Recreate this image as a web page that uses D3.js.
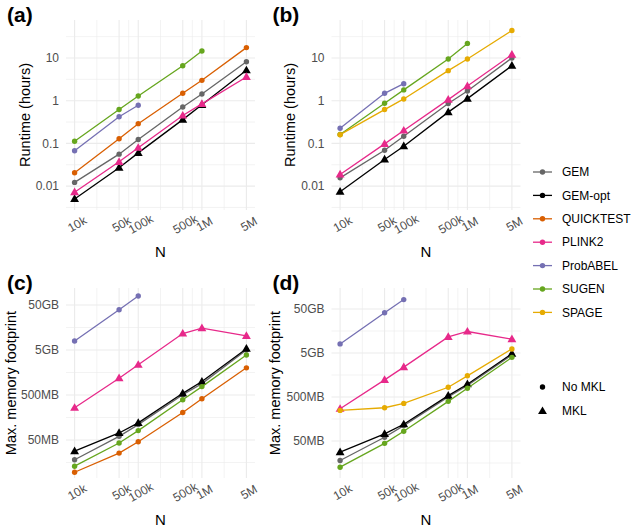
<!DOCTYPE html>
<html>
<head>
<meta charset="utf-8">
<script src="https://cdn.jsdelivr.net/npm/d3@7"></script>
<style>
  body { margin: 0; background: #fff; }
  text { font-family: "Liberation Sans", Arial, Helvetica, sans-serif; }
</style>
</head>
<body>
<script>
// sample sizes on the x axis
var nValues = [1e4, 5e4, 1e5, 5e5, 1e6, 5e6];
var nLabels = ["10k", "50k", "100k", "500k", "1M", "5M"];

var tools = ["GEM", "GEM-opt", "QUICKTEST", "PLINK2", "ProbABEL", "SUGEN", "SPAGE"];
var toolColors = ["#666666", "#000000", "#D95F02", "#E7298A", "#7570B3", "#66A61E", "#E6AB02"];
var mklTools = ["GEM-opt", "PLINK2"];

// runtime in hours, one row per tool (same order as tools), null = not run
var runtimeA = [
  [0.0122, 0.056, 0.123, 0.71, 1.44, 8.2],
  [0.005, 0.027, 0.060, 0.36, 0.80, 5.15],
  [0.0205, 0.128, 0.29, 1.49, 3.0, 17.5],
  [0.0072, 0.037, 0.079, 0.45, 0.84, 3.6],
  [0.067, 0.42, 0.78, null, null, null],
  [0.112, 0.62, 1.29, 6.6, 14.6, null],
  [null, null, null, null, null, null]
];
var runtimeB = [
  [0.0156, 0.069, 0.147, 0.86, 1.69, 10],
  [0.0074, 0.042, 0.086, 0.54, 1.12, 6.6],
  [null, null, null, null, null, null],
  [0.0187, 0.0975, 0.2, 1.06, 2.2, 12],
  [0.226, 1.49, 2.5, null, null, null],
  [0.161, 0.87, 1.79, 9.5, 22, null],
  [0.16, 0.62, 1.1, 5.06, 9.5, 44]
];
// max memory in MB
var memoryC = [
  [18.2, 60.4, 110, 508, 897, 5000],
  [28.4, 71.7, 120, 545, 995, 5360],
  [9.6, 25.6, 45.9, 205, 414, 2010],
  [260, 1180, 2350, 11600, 15300, 10300],
  [7950, 39350, 79400, null, null, null],
  [13.1, 42.9, 80.9, 393, 769, 3860],
  [null, null, null, null, null, null]
];
var memoryD = [
  [18, 60.7, 112, 500, 910, 4500],
  [28, 72.3, 120, 537, 975, 4830],
  [null, null, null, null, null, null],
  [270, 1225, 2390, 11600, 15400, 10300],
  [8040, 41200, 81800, null, null, null],
  [12.7, 44.2, 83.2, 398, 789, 3980],
  [248, 285, 358, 832, 1514, 6180]
];

var runtimeTicks = [0.01, 0.1, 1, 10];
var runtimeTickLabels = ["0.01", "0.1", "1", "10"];
var memoryTicks = [50, 500, 5000, 50000];
var memoryTickLabels = ["50MB", "500MB", "5GB", "50GB"];

var w = 633, h = 528;
var panelW = 189, panelH = 190;
var grid = "#EBEBEB";
var axisGray = "#4D4D4D";

var svg = d3.select("body").append("svg").attr("width", w).attr("height", h);

var panels = [
  { tag: "(a)", rows: runtimeA, left: 66, top: 20, yLog: [-2.56, 1.89],
    ticks: runtimeTicks, tickLabels: runtimeTickLabels, title: "Runtime (hours)", titleX: 25 },
  { tag: "(b)", rows: runtimeB, left: 331.5, top: 20, yLog: [-2.56, 1.89],
    ticks: runtimeTicks, tickLabels: runtimeTickLabels, title: "Runtime (hours)", titleX: 290 },
  { tag: "(c)", rows: memoryC, left: 66, top: 288, yLog: [0.855, 5.077],
    ticks: memoryTicks, tickLabels: memoryTickLabels, title: "Max. memory footprint", titleX: 11 },
  { tag: "(d)", rows: memoryD, left: 331.5, top: 288, yLog: [0.858, 5.176],
    ticks: memoryTicks, tickLabels: memoryTickLabels, title: "Max. memory footprint", titleX: 275 }
];

var lo = Math.log10(nValues[0]), hi = Math.log10(nValues[nValues.length - 1]);
var pad = (hi - lo) * 0.05;

var triangle = d3.symbol().type(d3.symbolTriangle).size(34);

panels.forEach(function (p) {
  var x = d3.scaleLog()
    .domain([Math.pow(10, lo - pad), Math.pow(10, hi + pad)])
    .range([p.left, p.left + panelW]);
  var y = d3.scaleLog()
    .domain([Math.pow(10, p.yLog[0]), Math.pow(10, p.yLog[1])])
    .range([p.top + panelH, p.top]);
  var bottom = p.top + panelH;

  var g = svg.append("g");

  // minor grid: geometric midpoints
  var xMinor = [];
  for (var i = 1; i < nValues.length; i++) xMinor.push(Math.sqrt(nValues[i - 1] * nValues[i]));
  var yMinor = [];
  p.ticks.forEach(function (t) { yMinor.push(t / Math.sqrt(10)); });
  yMinor.push(p.ticks[p.ticks.length - 1] * Math.sqrt(10));
  yMinor = yMinor.filter(function (v) { return y(v) >= p.top && y(v) <= bottom; });

  g.selectAll(".xminor").data(xMinor).enter().append("line")
    .attr("x1", d => x(d)).attr("x2", d => x(d))
    .attr("y1", p.top).attr("y2", bottom)
    .attr("stroke", grid).attr("stroke-width", 0.6);
  g.selectAll(".yminor").data(yMinor).enter().append("line")
    .attr("x1", p.left).attr("x2", p.left + panelW)
    .attr("y1", d => y(d)).attr("y2", d => y(d))
    .attr("stroke", grid).attr("stroke-width", 0.6);
  g.selectAll(".xmajor").data(nValues).enter().append("line")
    .attr("x1", d => x(d)).attr("x2", d => x(d))
    .attr("y1", p.top).attr("y2", bottom)
    .attr("stroke", grid).attr("stroke-width", 1.1);
  g.selectAll(".ymajor").data(p.ticks).enter().append("line")
    .attr("x1", p.left).attr("x2", p.left + panelW)
    .attr("y1", d => y(d)).attr("y2", d => y(d))
    .attr("stroke", grid).attr("stroke-width", 1.1);

  // y axis labels
  var yAxis = d3.axisLeft(y).tickValues(p.ticks)
    .tickFormat(function (d, i) { return p.tickLabels[i]; })
    .tickSize(0).tickPadding(7);
  var ya = g.append("g").attr("transform", "translate(" + p.left + ",0)").call(yAxis);
  ya.select(".domain").remove();
  ya.selectAll("text").attr("fill", axisGray).style("font-size", "12px");

  // x axis labels, rotated
  var xAxis = d3.axisBottom(x).tickValues(nValues)
    .tickFormat(function (d, i) { return nLabels[i]; })
    .tickSize(0);
  var xa = g.append("g").attr("transform", "translate(0," + bottom + ")").call(xAxis);
  xa.select(".domain").remove();
  xa.selectAll("text")
    .attr("fill", axisGray).style("font-size", "12px")
    .attr("y", 0).attr("dy", "0.35em")
    .attr("text-anchor", "middle")
    .attr("transform", "translate(2,14) rotate(-30)");

  // titles
  g.append("text")
    .attr("transform", "translate(" + p.titleX + "," + (p.top + panelH / 2) + ") rotate(-90)")
    .attr("text-anchor", "middle").attr("dy", "0.35em")
    .style("font-size", "14.5px").attr("fill", "#000")
    .text(p.title);
  g.append("text")
    .attr("x", p.left + panelW / 2).attr("y", bottom + 47)
    .attr("text-anchor", "middle")
    .style("font-size", "15px").attr("fill", "#000")
    .text("N");
  g.append("text")
    .attr("x", p.left - 59).attr("y", p.top + 2)
    .style("font-size", "21px").style("font-weight", "bold")
    .text(p.tag);

  // series
  var line = d3.line().x(d => x(d.n)).y(d => y(d.v));
  tools.forEach(function (tool, ti) {
    var pts = [];
    p.rows[ti].forEach(function (v, i) {
      if (v != null) pts.push({ n: nValues[i], v: v });
    });
    if (!pts.length) return;
    var col = toolColors[ti];
    g.append("path").datum(pts)
      .attr("d", line).attr("fill", "none")
      .attr("stroke", col).attr("stroke-width", 1.3);
    if (mklTools.indexOf(tool) >= 0) {
      g.selectAll(null).data(pts).enter().append("path")
        .attr("d", triangle)
        .attr("transform", d => "translate(" + x(d.n) + "," + (y(d.v) + 0.5) + ")")
        .attr("fill", col);
    } else {
      g.selectAll(null).data(pts).enter().append("circle")
        .attr("cx", d => x(d.n)).attr("cy", d => y(d.v))
        .attr("r", 2.7).attr("fill", col);
    }
  });
});

// legend
var legendTop = 172, legendStep = 23.4;
var lg = svg.append("g");
tools.forEach(function (tool, i) {
  var yy = legendTop + i * legendStep;
  lg.append("line").attr("x1", 533).attr("x2", 552).attr("y1", yy).attr("y2", yy)
    .attr("stroke", toolColors[i]).attr("stroke-width", 1.3);
  lg.append("circle").attr("cx", 542.5).attr("cy", yy).attr("r", 2.7).attr("fill", toolColors[i]);
  lg.append("text").attr("x", 562).attr("y", yy).attr("dy", "0.35em")
    .style("font-size", "12px").text(tool);
});
var shapes = ["No MKL", "MKL"];
shapes.forEach(function (s, i) {
  var yy = 387 + i * 24;
  if (i === 0) {
    lg.append("circle").attr("cx", 542.5).attr("cy", yy).attr("r", 2.7).attr("fill", "#000");
  } else {
    lg.append("path").attr("d", triangle).attr("transform", "translate(542.5," + (yy + 0.5) + ")").attr("fill", "#000");
  }
  lg.append("text").attr("x", 562).attr("y", yy).attr("dy", "0.35em")
    .style("font-size", "12px").text(s);
});
</script>
</body>
</html>
